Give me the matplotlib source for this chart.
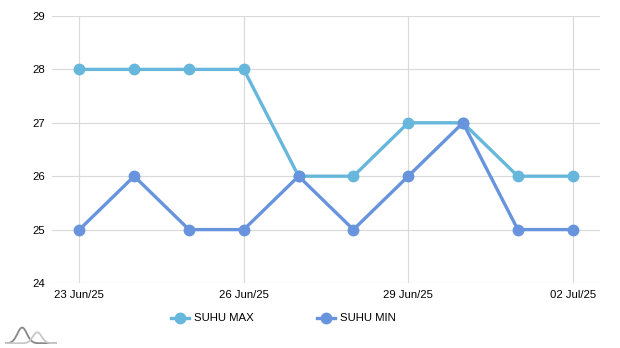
import numpy as np
import matplotlib
matplotlib.use("Agg")
import matplotlib.pyplot as plt
from matplotlib.lines import Line2D

dates = ["23 Jun/25", "24 Jun/25", "25 Jun/25", "26 Jun/25", "27 Jun/25",
         "28 Jun/25", "29 Jun/25", "30 Jun/25", "01 Jul/25", "02 Jul/25"]
suhu_max = [28, 28, 28, 28, 26, 26, 27, 27, 26, 26]
suhu_min = [25, 26, 25, 25, 26, 25, 26, 27, 25, 25]
tick_idx = [0, 3, 6, 9]
y_ticks = [24, 25, 26, 27, 28, 29]
series_names = ["SUHU MAX", "SUHU MIN"]

c_max = "#67b7dc"
c_min = "#6794dc"
grid_c = "#d9d9d9"

plt.rcParams['font.family'] = ['Liberation Sans', 'DejaVu Sans']

W, H = 620, 348
fig = plt.figure(figsize=(6.2, 3.48), dpi=100)
ax = fig.add_axes([52/W, 65/H, 548/W, 267/H])

x = np.arange(len(dates))
ax.plot(x, suhu_max, color=c_max, lw=2.4, marker='o', ms=7.5, zorder=3)
ax.plot(x, suhu_min, color=c_min, lw=2.4, marker='o', ms=7.5, zorder=4)

ax.set_xlim(-0.5, 9.5)
ax.set_ylim(24, 29)
ax.set_yticks(y_ticks)
ax.set_xticks(tick_idx)
ax.set_xticklabels([dates[i] for i in tick_idx])
for s in ax.spines.values():
    s.set_visible(False)
ax.tick_params(axis='both', length=0, labelsize=8.2, colors='#000000')
ax.tick_params(axis='y', pad=5)
ax.tick_params(axis='x', pad=5)
for yv in y_ticks:
    ax.axhline(yv, color=grid_c, lw=0.8, zorder=1)
for i in tick_idx:
    ax.axvline(i, color=grid_c, lw=0.8, zorder=1)

# legend, placed by hand
for name, col, mx in zip(series_names, [c_max, c_min], [180, 326]):
    fig.add_artist(Line2D([(mx - 9)/W, (mx + 9)/W], [1 - 318/H] * 2,
                          color=col, lw=2.4, transform=fig.transFigure))
    fig.add_artist(Line2D([mx/W], [1 - 318/H], color=col, marker='o', ms=7.5,
                          transform=fig.transFigure))
    fig.text((mx + 14)/W, 1 - 318/H, name, fontsize=8.2, va='center', ha='left')

# logo
lg = fig.add_axes([5/W, 4/H, 52/W, 18/H])
t = np.linspace(0, 1, 100)
lg.plot(t, np.exp(-((t - 0.33) / 0.13) ** 2), color='#888888', lw=1.3)
lg.plot(t, 0.7 * np.exp(-((t - 0.62) / 0.12) ** 2), color='#c8c8c8', lw=1.3)
lg.set_xlim(0, 1)
lg.set_ylim(-0.05, 1.1)
lg.axis('off')

fig.savefig("out.png", dpi=100)
